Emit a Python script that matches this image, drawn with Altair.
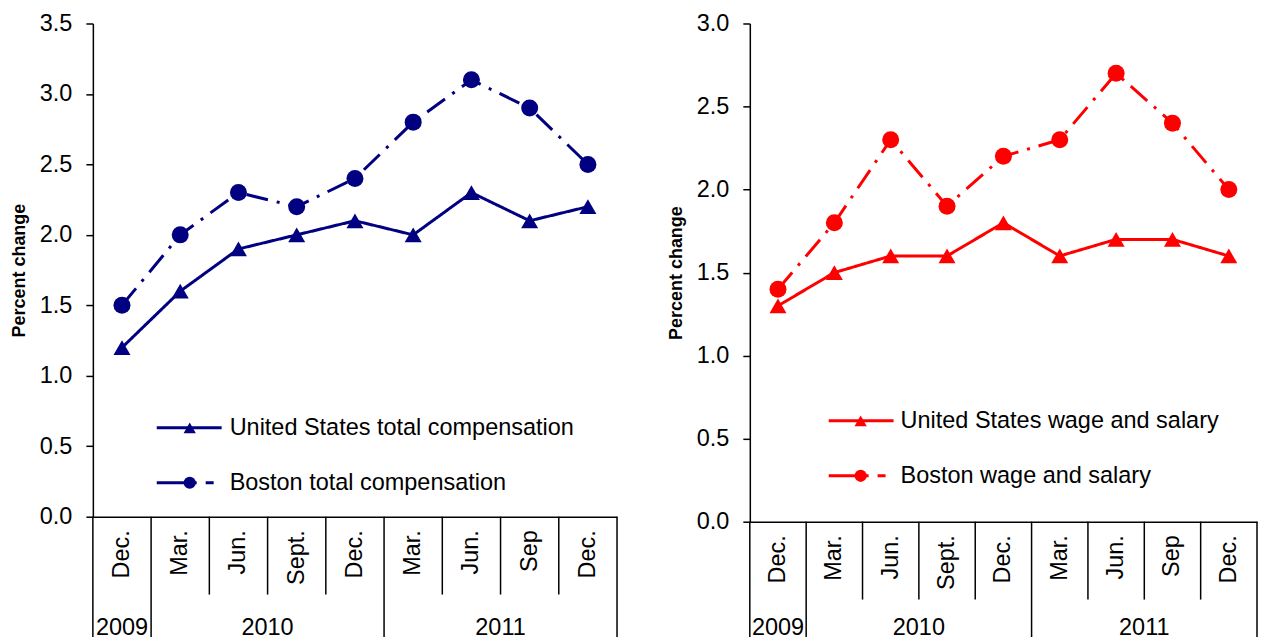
import altair as alt
import pandas as pd

# ---------------- data ----------------
periods = ["Dec.", "Mar.", "Jun.", "Sept.", "Dec.", "Mar.", "Jun.", "Sep", "Dec."]
years = ["2009", "2010", "2010", "2010", "2010", "2011", "2011", "2011", "2011"]

us_total = [1.2, 1.6, 1.9, 2.0, 2.1, 2.0, 2.3, 2.1, 2.2]
boston_total = [1.5, 2.0, 2.3, 2.2, 2.4, 2.8, 3.1, 2.9, 2.5]
us_wage = [1.3, 1.5, 1.6, 1.6, 1.8, 1.6, 1.7, 1.7, 1.6]
boston_wage = [1.4, 1.8, 2.3, 1.9, 2.2, 2.3, 2.7, 2.4, 2.0]

left_names = ["United States total compensation", "Boston total compensation"]
right_names = ["United States wage and salary", "Boston wage and salary"]

left_ticks = [0.0, 0.5, 1.0, 1.5, 2.0, 2.5, 3.0, 3.5]
right_ticks = [0.0, 0.5, 1.0, 1.5, 2.0, 2.5, 3.0]

y_title = "Percent change"

# ---------------- helpers ----------------
FONT = "Liberation Sans"
keys = [f"{y}|{p}" for y, p in zip(years, periods)]

starts = [i for i in range(len(keys)) if i == 0 or years[i] != years[i - 1]]
groups = []
for gi, s in enumerate(starts):
    e = starts[gi + 1] if gi + 1 < len(starts) else len(keys)
    groups.append((years[s], s, e - s))


def panel(us, boston, names, color, ymax, ticks, width, height, leg):
    df = pd.DataFrame({
        "key": keys * 2,
        "series": [names[0]] * len(keys) + [names[1]] * len(keys),
        "value": list(us) + list(boston),
    })

    xscale = alt.Scale(type="band", domain=keys, paddingInner=0, paddingOuter=0)
    xaxis = alt.Axis(
        title=None, labelExpr="split(datum.label, '|')[1]", labelAngle=-90,
        labelFontSize=23.5, labelColor="black", labelFont=FONT, labelPadding=13,
        ticks=False, domainColor="black", domainWidth=1.5, grid=False,
    )

    def X(bp=None):
        if bp is None:
            return alt.X("key:N", scale=xscale, axis=xaxis, sort=keys)
        return alt.X("key:N", scale=xscale, axis=xaxis, sort=keys, bandPosition=bp)

    yaxis = alt.Axis(
        values=ticks, format=".1f", title=y_title, titleFontWeight="bold",
        titleFontSize=18, titleFont=FONT, titleColor="black", titlePadding=11,
        labelFontSize=23.5, labelFont=FONT, labelColor="black", labelPadding=14,
        tickSize=7, tickColor="black", tickWidth=1.5,
        domainColor="black", domainWidth=1.5, grid=False,
    )
    Y = alt.Y("value:Q", scale=alt.Scale(domain=[0, ymax], nice=False, zero=True), axis=yaxis)

    dash = alt.StrokeDash("series:N", scale=alt.Scale(domain=names, range=[[1, 0], [22, 9, 3, 9]]), legend=None)
    shape = alt.Shape("series:N", scale=alt.Scale(domain=names, range=["triangle-up", "circle"]), legend=None)

    line = alt.Chart(df).mark_line(color=color, strokeWidth=3).encode(x=X(), y=Y, strokeDash=dash)
    pts = alt.Chart(df).mark_point(color=color, filled=True, opacity=1, size=290).encode(x=X(), y=Y, shape=shape)

    # separators below the axis
    short_keys = [k for i, k in enumerate(keys) if i not in starts]
    long_keys = [keys[i] for i in starts]
    sep_short = alt.Chart(pd.DataFrame({"key": short_keys})).mark_rule(color="black", strokeWidth=1.5).encode(
        x=X(0), y=alt.value(height), y2=alt.value(height + 78))
    sep_long = alt.Chart(pd.DataFrame({"key": long_keys})).mark_rule(color="black", strokeWidth=1.5).encode(
        x=X(0), y=alt.value(height), y2=alt.value(height + 130))
    sep_end = alt.Chart(pd.DataFrame({"key": [keys[-1]]})).mark_rule(color="black", strokeWidth=1.5).encode(
        x=X(1), y=alt.value(height), y2=alt.value(height + 130))

    odd = [(y, keys[s]) for (y, s, n) in groups if n % 2 == 1]
    even = [(y, keys[s + n // 2 - 1]) for (y, s, n) in groups if n % 2 == 0]
    ylab_y = 605
    ylab_odd = alt.Chart(pd.DataFrame(odd, columns=["year", "key"])).mark_text(
        fontSize=23.5, font=FONT, color="black", baseline="middle").encode(
        x=X(0.5), y=alt.value(ylab_y), text="year:N")
    ylab_even = alt.Chart(pd.DataFrame(even, columns=["year", "key"])).mark_text(
        fontSize=23.5, font=FONT, color="black", baseline="middle").encode(
        x=X(1), y=alt.value(ylab_y), text="year:N")

    # in-plot legend
    lx0, lx1, lmx, ltx, ly0, ly1 = leg
    legend_layers = []
    for i, (nm, yy) in enumerate(zip(names, [ly0, ly1])):
        ldf = pd.DataFrame({"series": [nm]})
        r = alt.Chart(ldf).mark_rule(color=color, strokeWidth=3,
                                     strokeDash=[1, 0] if i == 0 else [40, 9, 8, 30]).encode(
            x=alt.value(lx0), x2=alt.value(lx1), y=alt.value(yy))
        m = alt.Chart(ldf).mark_point(color=color, filled=True, opacity=1, size=150,
                                      shape="triangle-up" if i == 0 else "circle").encode(
            x=alt.value(lmx), y=alt.value(yy))
        t = alt.Chart(ldf).mark_text(align="left", baseline="middle", fontSize=23.5, font=FONT,
                                     color="black").encode(
            x=alt.value(ltx), y=alt.value(yy), text="series:N")
        legend_layers += [r, m, t]

    return alt.layer(line, pts, sep_short, sep_long, sep_end, ylab_odd, ylab_even,
                     *legend_layers).properties(width=width, height=height)


left = panel(us_total, boston_total, left_names, "#000080", 3.5, left_ticks, 525, 494,
             (64, 129, 97, 137, 405, 460))
right = panel(us_wage, boston_wage, right_names, "#FF0000", 3.0, right_ticks, 508, 499,
              (79, 144, 111, 151, 398, 453))

chart = alt.hconcat(left, right, spacing=49).properties(
    padding={"left": 2, "top": 3, "right": 0, "bottom": 0}
).configure(font=FONT).configure_view(stroke=None)

chart.save("out.html", embed_options={"renderer": "svg", "actions": False})
